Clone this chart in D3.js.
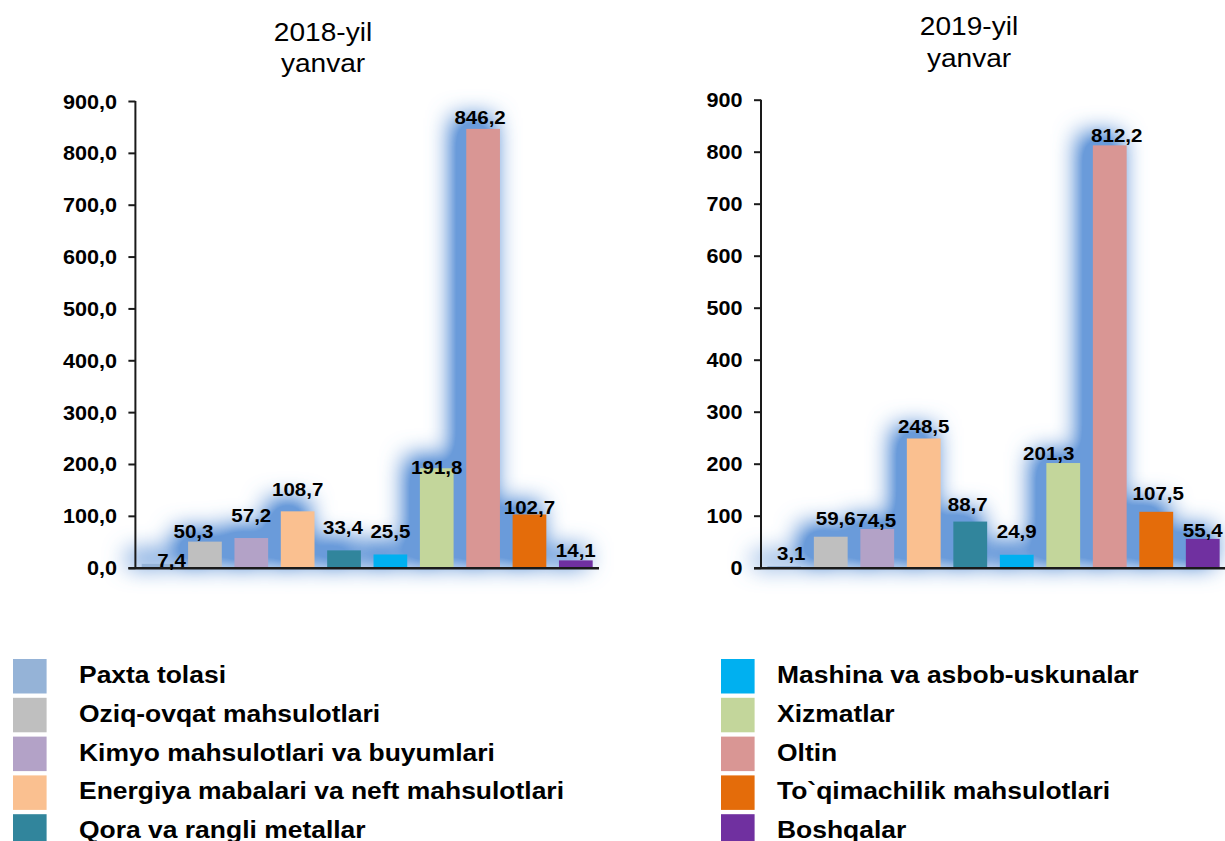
<!DOCTYPE html>
<html>
<head>
<meta charset="utf-8">
<script src="https://cdn.jsdelivr.net/npm/d3@7/dist/d3.min.js"></script>
<style>
  html, body { margin: 0; padding: 0; background: #fff; }
  svg { display: block; font-family: "Liberation Sans", Arial, sans-serif; }
</style>
</head>
<body>
<svg id="chart" width="1225" height="841"></svg>
<script>
const categories = [
  'Paxta tolasi',
  'Oziq-ovqat mahsulotlari',
  'Kimyo mahsulotlari va buyumlari',
  'Energiya mabalari va neft mahsulotlari',
  'Qora va rangli metallar',
  'Mashina va asbob-uskunalar',
  'Xizmatlar',
  'Oltin',
  'To`qimachilik mahsulotlari',
  'Boshqalar'
];
const colors = ['#95B3D7','#BFBFBF','#B3A2C7','#FAC090','#31859C','#00B0F0','#C3D69B','#D99694','#E46C0A','#7030A0'];

const values2018 = [7.4, 50.3, 57.2, 108.7, 33.4, 25.5, 191.8, 846.2, 102.7, 14.1];
const values2019 = [3.1, 59.6, 74.5, 248.5, 88.7, 24.9, 201.3, 812.2, 107.5, 55.4];

const titles2018 = ['2018-yil', 'yanvar'];
const titles2019 = ['2019-yil', 'yanvar'];

const yTicks = [0, 100, 200, 300, 400, 500, 600, 700, 800, 900];

// text in the source is slightly wider than plain Arial
const SX = 1.08;
const comma = f => v => f(v).replace('.', ',');

let svg = d3.select('#chart');

// blue blurred glow behind bars
let defs = svg.append('defs');
let glow = defs.append('filter')
  .attr('id', 'glow')
  .attr('filterUnits', 'userSpaceOnUse')
  .attr('x', 0).attr('y', 0)
  .attr('width', 1225).attr('height', 841);
glow.append('feMorphology').attr('in', 'SourceAlpha').attr('operator', 'dilate').attr('radius', 4).attr('result', 'big');
glow.append('feOffset').attr('in', 'big').attr('dx', -10).attr('dy', -7).attr('result', 'off');
glow.append('feGaussianBlur').attr('in', 'off').attr('stdDeviation', 12).attr('result', 'blur');
glow.append('feComponentTransfer').attr('in', 'blur').attr('result', 'boost')
  .append('feFuncA').attr('type', 'linear').attr('slope', 1.6);
glow.append('feFlood').attr('flood-color', '#6A9BDA').attr('result', 'col');
glow.append('feComposite').attr('in', 'col').attr('in2', 'boost').attr('operator', 'in');

const panels = [
  {
    values: values2018, title: titles2018, titleX: 323, titleY: [41, 72],
    x0: 135.4, x1: 599, yTop: 101, yBottom: 567.7,
    tickFmt: comma(d3.format('.1f')),
    labelDx:  [13, -11.5, 0, 0, -1, 0, 0, -3, 0, 0],
    labelGap: [-3, 3.5, 16, 15.5, 16, 16, -6, 5, 0, 3]
  },
  {
    values: values2019, title: titles2019, titleX: 969, titleY: [35, 67],
    x0: 761, x1: 1226, yTop: 99.7, yBottom: 567.7,
    tickFmt: d3.format('d'),
    labelDx:  [7, 5, -1, 0, -2.5, 0, -14.5, 7, 2, 0],
    labelGap: [6, 11.5, 1.5, 5.5, 11, 16.5, 3.5, 3.5, 12, 2]
  }
];

panels.forEach(p => drawPanel(p));
drawLegend();

function drawPanel(p) {
  let x = d3.scaleBand()
    .domain(d3.range(categories.length))
    .range([p.x0, p.x1])
    .paddingInner(0.273)
    .paddingOuter(0.1365);

  let y = d3.scaleLinear()
    .domain([0, 900])
    .range([p.yBottom, p.yTop]);

  let g = svg.append('g');

  // title
  g.append('g').selectAll('text')
    .data(p.title)
    .enter()
    .append('text')
    .attr('text-anchor', 'middle')
    .attr('transform', (d, i) => `translate(${p.titleX},${p.titleY[i]}) scale(${SX},1)`)
    .style('font-size', '26px')
    .style('fill', '#000')
    .text(d => d);

  // glow layer
  g.append('g')
    .attr('filter', 'url(#glow)')
    .selectAll('rect')
    .data(p.values)
    .enter()
    .append('rect')
    .attr('x', (d, i) => x(i))
    .attr('y', d => y(d))
    .attr('width', x.bandwidth())
    .attr('height', d => y(0) - y(d))
    .attr('fill', '#000');

  // bars
  g.append('g')
    .selectAll('rect')
    .data(p.values)
    .enter()
    .append('rect')
    .attr('x', (d, i) => x(i))
    .attr('y', d => y(d))
    .attr('width', x.bandwidth())
    .attr('height', d => y(0) - y(d))
    .attr('fill', (d, i) => colors[i]);

  // y axis
  let yAxis = g.append('g')
    .attr('transform', `translate(${p.x0},0)`)
    .call(d3.axisLeft(y).tickValues(yTicks).tickSize(7).tickSizeOuter(0).tickFormat(p.tickFmt));

  yAxis.select('.domain')
    .attr('d', `M0,${p.yTop}V${p.yBottom}`)
    .attr('stroke', '#1a1a1a')
    .attr('stroke-width', 2);
  yAxis.selectAll('.tick line')
    .attr('stroke', '#1a1a1a')
    .attr('stroke-width', 2);
  yAxis.selectAll('.tick text')
    .attr('x', null).attr('dy', null)
    .attr('transform', `translate(-18.5,7) scale(${SX},1)`)
    .attr('text-anchor', 'end')
    .style('font-family', '"Liberation Sans", Arial, sans-serif')
    .style('font-size', '20px')
    .style('font-weight', 'bold')
    .style('fill', '#000');

  // x axis line
  g.append('line')
    .attr('x1', p.x0 - 7)
    .attr('x2', p.x1)
    .attr('y1', y(0) + 0.5)
    .attr('y2', y(0) + 0.5)
    .attr('stroke', '#1a1a1a')
    .attr('stroke-width', 2.5);

  // value labels
  g.append('g')
    .selectAll('text')
    .data(p.values)
    .enter()
    .append('text')
    .attr('text-anchor', 'middle')
    .attr('transform', (d, i) => {
      let cx = x(i) + x.bandwidth() / 2 + p.labelDx[i];
      let cy = y(d) - p.labelGap[i];
      return `translate(${cx},${cy}) scale(${SX},1)`;
    })
    .style('font-size', '19px')
    .style('font-weight', 'bold')
    .style('fill', '#000')
    .text(d => comma(d3.format('.1f'))(d));
}

function drawLegend() {
  let rows = d3.scaleBand()
    .domain(d3.range(5))
    .range([659, 659 + 5 * 38.8]);

  let cols = [
    { sq: 13, tx: 79 },
    { sq: 721, tx: 777 }
  ];

  let item = svg.append('g')
    .selectAll('g')
    .data(categories)
    .enter()
    .append('g')
    .attr('transform', (d, i) => `translate(0,${rows(i % 5)})`);

  item.append('rect')
    .attr('x', (d, i) => cols[Math.floor(i / 5)].sq)
    .attr('y', 0)
    .attr('width', 33.6)
    .attr('height', 34.5)
    .attr('fill', (d, i) => colors[i]);

  item.append('text')
    .attr('transform', (d, i) => `translate(${cols[Math.floor(i / 5)].tx},24) scale(${SX},1)`)
    .style('font-size', '24.5px')
    .style('font-weight', 'bold')
    .style('fill', '#000')
    .text(d => d);
}
</script>
</body>
</html>
